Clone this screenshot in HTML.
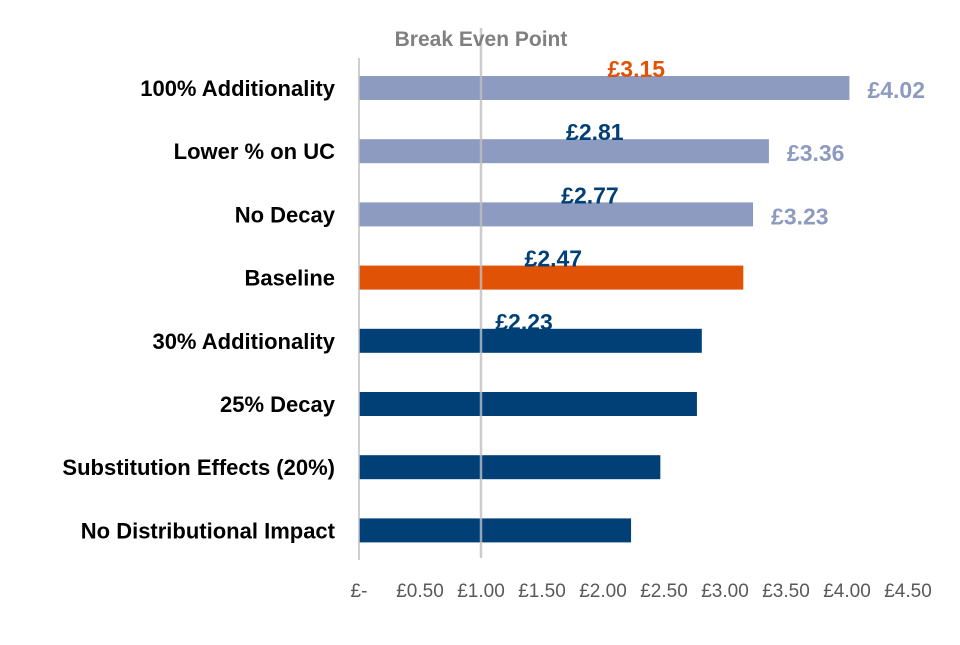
<!DOCTYPE html>
<html><head><meta charset="utf-8"><style>
html,body{margin:0;padding:0;background:#fff;}
svg text{font-family:"Liberation Sans",Arial,sans-serif;}
</style></head><body>
<svg id="chart" width="960" height="640"></svg>
<script>
const categories=["100% Additionality","Lower % on UC","No Decay","Baseline","30% Additionality","25% Decay","Substitution Effects (20%)","No Distributional Impact"];
const values=[4.02,3.36,3.23,3.15,2.81,2.77,2.47,2.23];
const groups=["high","high","high","base","low","low","low","low"];
const ticks=[0,0.5,1,1.5,2,2.5,3,3.5,4,4.5];
const tickLabels=["£-","£0.50","£1.00","£1.50","£2.00","£2.50","£3.00","£3.50","£4.00","£4.50"];
const breakEven=1.0;
const NS="http://www.w3.org/2000/svg";
const svg=document.getElementById('chart');
const x=v=>359+v*122;
const y=i=>88+i*63.2;
const colors={high:"#8C9BBF",base:"#E05206",low:"#004077"};
function mk(t,a){const e=document.createElementNS(NS,t);for(const k in a)e.setAttribute(k,a[k]);svg.appendChild(e);return e;}
categories.forEach((c,i)=>{
  const r=mk('rect',{x:x(0),y:y(i)-12,width:x(values[i])-x(0),height:24,fill:colors[groups[i]]});
  
  
  const t=mk('text',{x:335,y:y(i)+8,'text-anchor':'end','font-size':22,'font-weight':'bold',fill:'#000'});
  t.textContent=c;
  
  
});
// break-even line
const bl=mk('line',{x1:x(breakEven),x2:x(breakEven),y1:28,y2:558,stroke:'#BFBFBF','stroke-width':2.5,'stroke-opacity':0.8});


const bt=mk('text',{x:x(breakEven),y:46,'text-anchor':'middle','font-size':21,'font-weight':'bold',fill:'#808080'});
bt.textContent="Break Even Point";


// axis line
const al=mk('line',{x1:x(0),x2:x(0),y1:58,y2:560,stroke:'#BFBFBF','stroke-width':1.5});


// value labels
categories.forEach((c,i)=>{
  const lab="£"+values[i].toFixed(2);
  let t;
  if(groups[i]==="high"){
    t=mk('text',{x:x(values[i])+18,y:y(i)+10,'font-size':23,'font-weight':'bold',fill:colors.high});
  } else {
    t=mk('text',{x:x(values[i])-107,y:y(i-3)-11,'text-anchor':'middle','font-size':23,'font-weight':'bold',fill:colors[groups[i]]});
  }
  t.textContent=lab;
  
  
});
ticks.forEach((v,i)=>{
  const t=mk('text',{x:x(v),y:597,'text-anchor':'middle','font-size':19,fill:'#595959'});
  t.textContent=tickLabels[i];
  
  
});
</script>
</body></html>
